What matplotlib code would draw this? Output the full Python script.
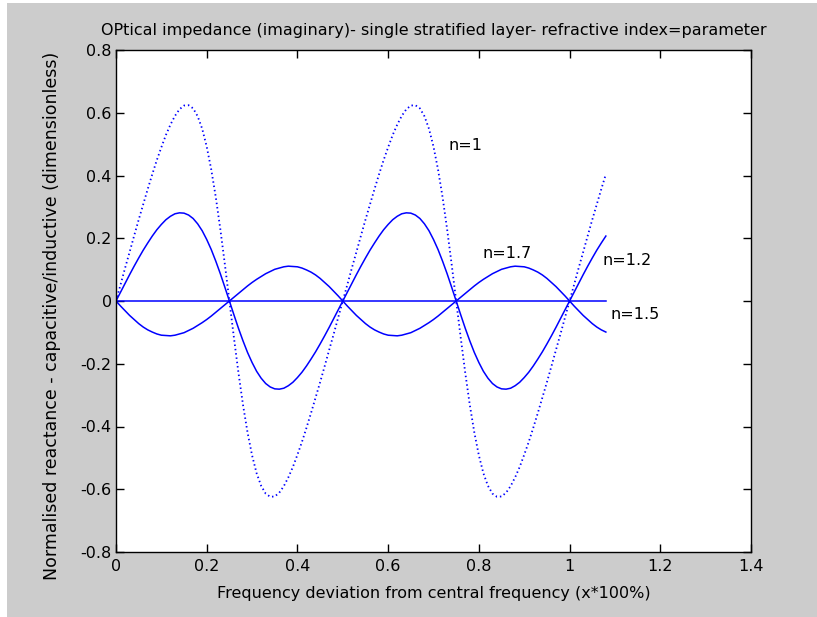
import matplotlib
matplotlib.use("Agg")
import matplotlib.pyplot as plt
from matplotlib.patches import Rectangle

plt.rcParams['font.family'] = ['DejaVu Sans']

# x samples (fraction of central frequency)
x = [round(0.01 * i, 2) for i in range(109)]

# n = 1 (dotted, largest swing)
y_n1 = [0.000, 0.052, 0.105, 0.156, 0.208, 0.259, 0.308, 0.357, 0.404, 0.449,
        0.490, 0.529, 0.562, 0.590, 0.611, 0.623, 0.624, 0.614, 0.589, 0.549,
        0.492, 0.419, 0.331, 0.229, 0.117, 0.000, -0.117, -0.229, -0.331, -0.419,
        -0.492, -0.549, -0.589, -0.614, -0.624, -0.623, -0.611, -0.590, -0.562, -0.529,
        -0.490, -0.449, -0.404, -0.357, -0.308, -0.259, -0.208, -0.156, -0.105, -0.052,
        0.000, 0.052, 0.105, 0.156, 0.208, 0.259, 0.308, 0.357, 0.404, 0.449,
        0.490, 0.529, 0.562, 0.590, 0.611, 0.623, 0.624, 0.614, 0.589, 0.549,
        0.492, 0.419, 0.331, 0.229, 0.117, 0.000, -0.117, -0.229, -0.331, -0.419,
        -0.492, -0.549, -0.589, -0.614, -0.624, -0.623, -0.611, -0.590, -0.562, -0.529,
        -0.490, -0.449, -0.404, -0.357, -0.308, -0.259, -0.208, -0.156, -0.105, -0.052,
        0.000, 0.052, 0.105, 0.156, 0.208, 0.259, 0.308, 0.357, 0.404]

# n = 1.2
y_n12 = [0.000, 0.028, 0.056, 0.084, 0.111, 0.137, 0.162, 0.185, 0.207, 0.227,
         0.244, 0.259, 0.270, 0.278, 0.281, 0.280, 0.274, 0.263, 0.246, 0.224,
         0.196, 0.164, 0.127, 0.087, 0.044, 0.000, -0.044, -0.087, -0.127, -0.164,
         -0.196, -0.224, -0.246, -0.263, -0.274, -0.280, -0.281, -0.278, -0.270, -0.259,
         -0.244, -0.227, -0.207, -0.185, -0.162, -0.137, -0.111, -0.084, -0.056, -0.028,
         0.000, 0.028, 0.056, 0.084, 0.111, 0.137, 0.162, 0.185, 0.207, 0.227,
         0.244, 0.259, 0.270, 0.278, 0.281, 0.280, 0.274, 0.263, 0.246, 0.224,
         0.196, 0.164, 0.127, 0.087, 0.044, 0.000, -0.044, -0.087, -0.127, -0.164,
         -0.196, -0.224, -0.246, -0.263, -0.274, -0.280, -0.281, -0.278, -0.270, -0.259,
         -0.244, -0.227, -0.207, -0.185, -0.162, -0.137, -0.111, -0.084, -0.056, -0.028,
         0.000, 0.028, 0.056, 0.084, 0.111, 0.137, 0.162, 0.185, 0.207]

# n = 1.7 (opposite sign, small swing)
y_n17 = [0.000, -0.016, -0.031, -0.046, -0.059, -0.072, -0.083, -0.092, -0.099, -0.105,
         -0.109, -0.110, -0.111, -0.109, -0.105, -0.101, -0.094, -0.087, -0.078, -0.069,
         -0.059, -0.048, -0.036, -0.024, -0.012, 0.000, 0.012, 0.024, 0.036, 0.048,
         0.059, 0.069, 0.078, 0.087, 0.094, 0.101, 0.105, 0.109, 0.111, 0.110,
         0.109, 0.105, 0.099, 0.092, 0.083, 0.072, 0.059, 0.046, 0.031, 0.016,
         0.000, -0.016, -0.031, -0.046, -0.059, -0.072, -0.083, -0.092, -0.099, -0.105,
         -0.109, -0.110, -0.111, -0.109, -0.105, -0.101, -0.094, -0.087, -0.078, -0.069,
         -0.059, -0.048, -0.036, -0.024, -0.012, 0.000, 0.012, 0.024, 0.036, 0.048,
         0.059, 0.069, 0.078, 0.087, 0.094, 0.101, 0.105, 0.109, 0.111, 0.110,
         0.109, 0.105, 0.099, 0.092, 0.083, 0.072, 0.059, 0.046, 0.031, 0.016,
         0.000, -0.016, -0.031, -0.046, -0.059, -0.072, -0.083, -0.092, -0.099]

# n = 1.5 (matched: zero everywhere)
x_n15 = [0.0, 1.08]
y_n15 = [0.0, 0.0]

labels = ["n=1", "n=1.7", "n=1.2", "n=1.5"]
label_pos = [(0.734, 0.497), (0.807, 0.152), (1.072, 0.128), (1.091, -0.042)]

xticks = [0, 0.2, 0.4, 0.6, 0.8, 1, 1.2, 1.4]
xticklabels = ["0", "0.2", "0.4", "0.6", "0.8", "1", "1.2", "1.4"]
yticks = [-0.8, -0.6, -0.4, -0.2, 0, 0.2, 0.4, 0.6, 0.8]
yticklabels = ["-0.8", "-0.6", "-0.4", "-0.2", "0", "0.2", "0.4", "0.6", "0.8"]

FS = 11.5

fig = plt.figure(figsize=(8.17, 6.17), dpi=100, facecolor='white')
fig.patches.append(Rectangle((7 / 817, 0), 1 - 7 / 817, 1 - 3 / 617,
                             transform=fig.transFigure, facecolor='#cccccc',
                             edgecolor='none', zorder=-10))

ax = fig.add_axes([116 / 817, 65 / 617, 635 / 817, 502 / 617])
ax.set_facecolor('white')

blue = '#0000ff'
ax.plot(x, y_n1, color=blue, linestyle=(0, (0.8, 1.6)), linewidth=1.3)
ax.plot(x, y_n12, color=blue, linestyle='-', linewidth=1.1)
ax.plot(x, y_n17, color=blue, linestyle='-', linewidth=1.1)
ax.plot(x_n15, y_n15, color=blue, linestyle='-', linewidth=1.1)

for (lx, ly), t in zip(label_pos, labels):
    ax.text(lx, ly, t, fontsize=FS, ha='left', va='center', color='black')

ax.set_xlim(0, 1.4)
ax.set_ylim(-0.8, 0.8)
ax.set_xticks(xticks)
ax.set_xticklabels(xticklabels)
ax.set_yticks(yticks)
ax.set_yticklabels(yticklabels)
ax.tick_params(direction='in', length=6, width=1, top=True, right=True,
               labelsize=FS, colors='black', pad=3)
ax.tick_params(axis='x', pad=5)
for sp in ax.spines.values():
    sp.set_linewidth(1.0)
    sp.set_color('black')

ax.set_title("OPtical impedance (imaginary)- single stratified layer- refractive index=parameter",
             fontsize=FS, pad=11)
ax.set_xlabel("Frequency deviation from central frequency (x*100%)", fontsize=FS, labelpad=9)
ax.set_ylabel("Normalised reactance - capacitive/inductive (dimensionless)", fontsize=12.5, labelpad=6)
ax.yaxis.set_label_coords(-0.086, 0.47)

fig.savefig("out.png", dpi=100, facecolor=fig.get_facecolor())
